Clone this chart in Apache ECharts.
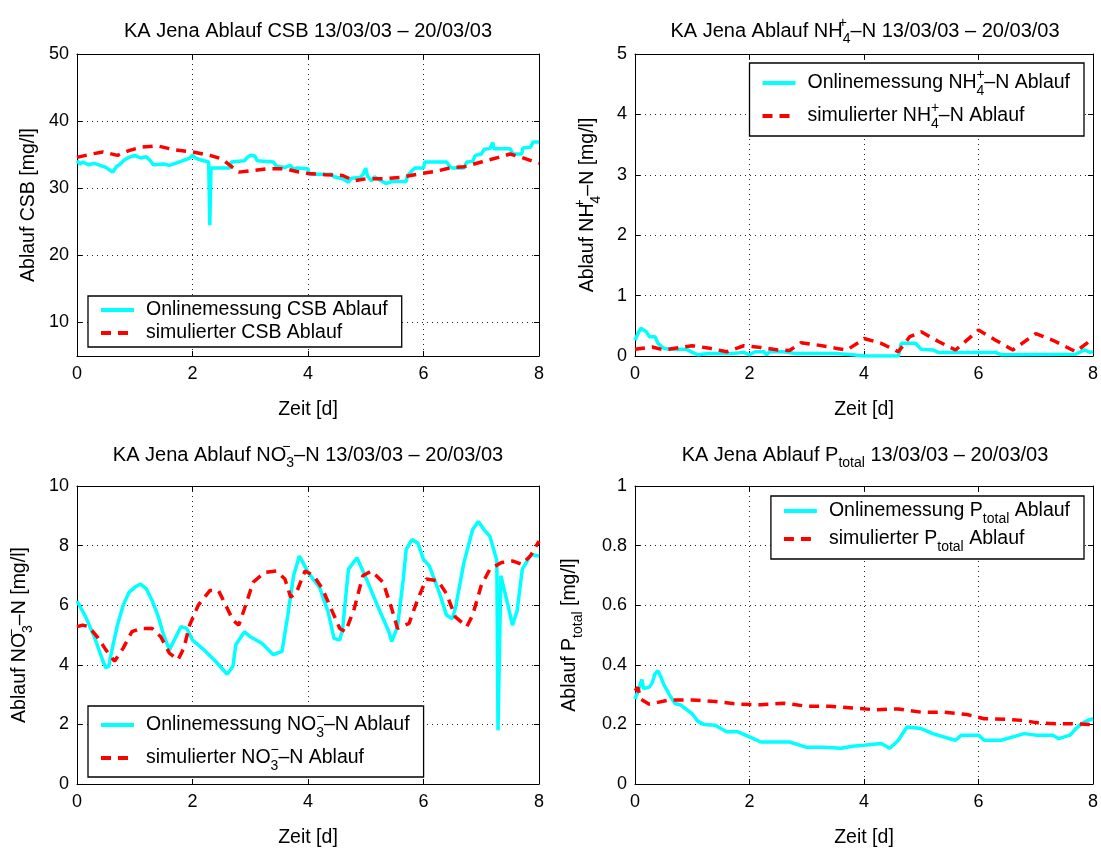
<!DOCTYPE html>
<html><head><meta charset="utf-8">
<script src="https://cdn.jsdelivr.net/npm/echarts@6/dist/echarts.min.js"></script>
<style>html,body{margin:0;padding:0;background:#fff}#c{width:1101px;height:849px}</style>
</head><body><div id="c"></div>
<script>
// ---------- DATA ----------
const xTicks = [0, 2, 4, 6, 8];
const csbTicks = [10, 20, 30, 40, 50];

// CSB (COD) effluent
const csbOnT = [0,0.05,0.1,0.2,0.3,0.4,0.5,0.55,0.62,0.68,0.75,0.82,0.9,1.0,1.1,1.2,1.28,1.32,1.5,1.6,1.7,1.8,1.95,2.0,2.05,2.15,2.28,2.3,2.31,2.32,2.65,2.67,2.9,2.95,3.0,3.08,3.12,3.4,3.45,3.6,3.7,3.75,3.8,4.0,4.02,4.4,4.45,4.6,4.7,4.75,4.9,4.95,5.0,5.03,5.1,5.15,5.25,5.35,5.45,5.7,5.72,5.8,5.85,6.0,6.02,6.4,6.45,6.5,6.7,6.75,6.85,6.9,7.0,7.05,7.15,7.2,7.22,7.5,7.55,7.7,7.72,7.85,7.9,8.0];
const csbOnV = [34.1,33.6,33.9,33.5,33.7,33.4,33.1,32.8,32.4,33.2,33.6,34.2,34.6,34.9,34.5,34.7,34.0,33.5,33.6,33.4,33.7,34.0,34.5,34.9,34.5,34.2,33.9,24.5,24.5,33.0,33.0,33.9,34.1,34.6,34.9,34.8,34.1,33.9,33.3,33.1,33.4,32.8,33.0,32.9,32.1,32.1,31.7,31.4,30.9,31.5,31.6,32.0,33.0,31.8,31.1,31.7,31.2,30.7,31.0,31.0,31.8,32.6,33.0,33.0,33.9,33.9,33.3,33.0,33.0,33.9,34.0,34.9,35.1,35.8,35.9,36.8,35.9,35.9,35.1,35.1,36.0,36.1,36.9,36.9];
const csbSimT = [0,0.25,0.45,0.7,0.9,1.1,1.4,1.7,2.0,2.3,2.5,2.65,2.8,3.0,3.3,3.6,3.8,4.0,4.3,4.6,4.8,5.0,5.3,5.6,5.9,6.2,6.5,6.7,7.0,7.3,7.5,7.7,8.0];
const csbSimV = [34.6,35.1,35.4,34.9,35.6,36.1,36.3,35.7,35.4,34.9,34.4,33.4,32.4,32.6,32.9,32.9,32.5,32.2,32.0,31.9,31.1,31.4,31.4,31.6,32.1,32.5,33.1,33.2,33.9,34.6,35.1,34.6,33.7];

// NH4-N effluent
const nhOnT = [0,0.05,0.1,0.2,0.25,0.35,0.4,0.5,0.6,0.9,1.0,1.1,1.3,1.7,1.9,2.0,2.1,2.25,2.3,2.35,2.6,2.8,3.5,3.8,4.0,4.6,4.65,4.9,5.0,5.2,5.3,6.3,6.4,7.7,7.85,7.95,8.0];
const nhOnV = [0.26,0.37,0.46,0.4,0.32,0.32,0.21,0.13,0.11,0.11,0.06,0.02,0.04,0.04,0.06,0.02,0.07,0.07,0.02,0.07,0.07,0.04,0.04,0.02,0,0,0.21,0.21,0.11,0.1,0.06,0.06,0.02,0.03,0.1,0.06,0.07];
const nhSimT = [0,0.3,0.5,0.7,1.0,1.3,1.6,1.9,2.2,2.5,2.7,2.9,3.2,3.5,3.7,3.9,4.0,4.3,4.6,4.8,5.0,5.3,5.6,6.0,6.3,6.6,7.0,7.3,7.7,8.0];
const nhSimV = [0.11,0.15,0.1,0.13,0.17,0.13,0.07,0.17,0.14,0.1,0.09,0.22,0.18,0.13,0.1,0.22,0.29,0.21,0.07,0.32,0.4,0.24,0.1,0.43,0.26,0.1,0.37,0.26,0.07,0.29];

// NO3-N effluent
const noOnT = [0,0.15,0.3,0.45,0.5,0.55,0.6,0.7,0.8,0.9,1.0,1.1,1.2,1.3,1.4,1.5,1.6,1.7,1.8,1.9,2.0,2.2,2.4,2.5,2.6,2.7,2.75,2.9,3.0,3.2,3.4,3.55,3.65,3.75,3.85,3.9,4.0,4.2,4.35,4.45,4.55,4.6,4.7,4.85,5.0,5.2,5.4,5.45,5.55,5.65,5.7,5.8,5.9,6.0,6.1,6.25,6.4,6.5,6.55,6.7,6.85,6.95,7.05,7.15,7.27,7.29,7.3,7.34,7.45,7.54,7.62,7.71,7.86,8.0];
const noOnV = [6.14,5.61,4.94,4.12,3.9,3.95,4.45,5.33,6.0,6.43,6.6,6.71,6.55,6.16,5.66,5.0,4.5,4.89,5.28,5.22,4.83,4.5,4.12,3.9,3.68,3.95,4.67,5.11,4.94,4.72,4.34,4.45,5.66,6.99,7.65,7.48,7.1,6.6,5.77,4.89,4.83,5.22,7.21,7.59,6.93,6.0,5.11,4.78,5.28,6.88,7.87,8.2,8.09,7.54,7.32,6.55,5.66,5.55,5.88,7.43,8.53,8.81,8.53,8.31,7.5,1.8,1.8,6.99,6.1,5.33,5.8,7.2,7.7,7.65];
const noSimT = [0,0.1,0.2,0.35,0.5,0.65,0.8,0.95,1.1,1.3,1.45,1.6,1.75,1.85,1.95,2.1,2.3,2.45,2.55,2.7,2.8,2.9,3.05,3.25,3.45,3.6,3.7,3.8,3.95,4.1,4.25,4.4,4.55,4.65,4.8,4.95,5.1,5.3,5.45,5.55,5.75,5.9,6.05,6.25,6.4,6.55,6.75,6.85,7.0,7.15,7.35,7.55,7.7,7.85,8.0];
const noSimV = [5.28,5.33,5.28,4.94,4.5,4.12,4.56,5.11,5.22,5.22,4.94,4.39,4.17,4.56,5.33,6.0,6.49,6.49,6.1,5.5,5.33,5.88,6.77,7.1,7.15,6.88,6.27,6.43,7.15,6.99,6.55,5.88,5.22,5.11,5.88,6.99,7.15,6.77,5.88,5.22,5.39,6.2,6.88,6.82,6.38,5.61,5.28,5.66,6.66,7.21,7.43,7.48,7.37,7.65,8.15];

// P total effluent
const pOnT = [0,0.05,0.1,0.12,0.15,0.25,0.3,0.35,0.4,0.45,0.5,0.6,0.7,0.8,0.9,1.0,1.1,1.2,1.4,1.6,1.8,2.0,2.2,2.5,2.7,3.0,3.3,3.6,3.8,4.0,4.3,4.45,4.6,4.75,5.0,5.2,5.5,5.6,5.7,6.0,6.1,6.4,6.6,6.8,7.0,7.3,7.4,7.6,7.7,7.8,7.9,8.0];
const pOnV = [0.285,0.31,0.34,0.35,0.32,0.325,0.34,0.37,0.38,0.36,0.335,0.30,0.27,0.265,0.25,0.235,0.21,0.20,0.197,0.175,0.175,0.158,0.141,0.141,0.141,0.123,0.123,0.12,0.127,0.13,0.136,0.12,0.147,0.191,0.186,0.169,0.152,0.147,0.164,0.164,0.147,0.147,0.158,0.169,0.164,0.164,0.152,0.164,0.186,0.202,0.213,0.219];
const pSimT = [0,0.05,0.1,0.25,0.4,0.6,1.0,1.4,1.8,2.2,2.6,3.0,3.4,3.8,4.2,4.6,5.0,5.4,5.8,6.1,6.5,6.8,7.0,7.4,7.7,8.0];
const pSimV = [0.313,0.324,0.285,0.268,0.274,0.282,0.282,0.277,0.268,0.266,0.271,0.261,0.261,0.255,0.249,0.252,0.241,0.241,0.233,0.219,0.217,0.213,0.206,0.202,0.202,0.199];

// ---------- CHART ----------
const FF = "'Liberation Sans', Arial, Helvetica, sans-serif";
const zip = (t, v) => t.map((x, i) => [x, v[i]]);

function richStyles(fs, lh) {
  const s = Math.round(fs * 0.72);
  const base = {fontFamily: FF, color: '#000', fontWeight: 'normal'};
  return {
    t: Object.assign({fontSize: fs, lineHeight: lh}, base),
    sup: Object.assign({fontSize: s, lineHeight: s, verticalAlign: 'top', width: 0}, base),
    sub: Object.assign({fontSize: s, lineHeight: s, verticalAlign: 'bottom'}, base)
  };
}

const grids = [
  {left: 77, top: 54, width: 462, height: 302},
  {left: 635, top: 54, width: 460, height: 302},
  {left: 77, top: 486, width: 462, height: 301},
  {left: 635, top: 486, width: 460, height: 301}
];

const yCfg = [
  {min: 5, max: 50, custom: csbTicks, name: '{t|Ablauf CSB [mg/l]}', gap: 33},
  {min: 0, max: 5, interval: 1, name: '{t|Ablauf NH}{sup|+}{sub|4}{t|–N [mg/l]}', gap: 32},
  {min: 0, max: 10, interval: 2, name: '{t|Ablauf NO}{sup|−}{sub|3}{t|–N [mg/l]}', gap: 42},
  {min: 0, max: 1, interval: 0.2, name: '{t|Ablauf P}{sub|total}{t| [mg/l]}', gap: 50}
];

const titles = [
  '{t|KA Jena Ablauf CSB 13/03/03 – 20/03/03}',
  '{t|KA Jena Ablauf NH}{sup|+}{sub|4}{t|–N 13/03/03 – 20/03/03}',
  '{t|KA Jena Ablauf NO}{sup|−}{sub|3}{t|–N 13/03/03 – 20/03/03}',
  '{t|KA Jena Ablauf P}{sub|total}{t| 13/03/03 – 20/03/03}'
];
const titleTops = [16, 16, 440, 440];

const lineStyleAxis = {color: '#000', width: 1};
const gridLine = {show: true, lineStyle: {color: '#222', type: [1, 4], width: 1}};

const xAxis = [], yAxis = [];
grids.forEach((g, i) => {
  ['bottom', 'top'].forEach(pos => {
    const main = pos === 'bottom';
    xAxis.push({
      type: 'value', gridIndex: i, position: pos, min: 0, max: 8, interval: 2,
      axisLine: {show: true, onZero: false, lineStyle: lineStyleAxis},
      axisTick: {show: true, inside: true, length: 5, lineStyle: lineStyleAxis},
      axisLabel: {show: main, color: '#000', fontSize: 18, fontFamily: FF, margin: 9},
      splitLine: main ? gridLine : {show: false},
      name: main ? 'Zeit [d]' : '', nameLocation: 'middle', nameGap: 44,
      nameTextStyle: {color: '#000', fontSize: 19.5, fontFamily: FF}
    });
  });
  const c = yCfg[i];
  ['left', 'right'].forEach(pos => {
    const main = pos === 'left';
    const ax = {
      type: 'value', gridIndex: i, position: pos, min: c.min, max: c.max,
      axisLine: {show: true, onZero: false, lineStyle: lineStyleAxis},
      axisTick: {show: true, inside: true, length: 5, lineStyle: lineStyleAxis},
      axisLabel: {show: main, color: '#000', fontSize: 18, fontFamily: FF, margin: 8},
      splitLine: main ? gridLine : {show: false},
      name: main ? c.name : '', nameLocation: 'middle', nameGap: c.gap,
      nameTextStyle: {rich: richStyles(19.5, 30)}
    };
    if (c.custom) {
      ax.axisTick.customValues = c.custom;
      ax.axisLabel.customValues = c.custom;
    } else {
      ax.interval = c.interval;
    }
    yAxis.push(ax);
  });
});

const names = [
  ['Onlinemessung CSB Ablauf', 'simulierter CSB Ablauf'],
  ['Onlinemessung NH4-N Ablauf', 'simulierter NH4-N Ablauf'],
  ['Onlinemessung NO3-N Ablauf', 'simulierter NO3-N Ablauf'],
  ['Onlinemessung Ptotal Ablauf', 'simulierter Ptotal Ablauf']
];
const legendLabels = {
  'Onlinemessung CSB Ablauf': '{t|Onlinemessung CSB Ablauf}',
  'simulierter CSB Ablauf': '{t|simulierter CSB Ablauf}',
  'Onlinemessung NH4-N Ablauf': '{t|Onlinemessung NH}{sup|+}{sub|4}{t|–N Ablauf}',
  'simulierter NH4-N Ablauf': '{t|simulierter NH}{sup|+}{sub|4}{t|–N Ablauf}',
  'Onlinemessung NO3-N Ablauf': '{t|Onlinemessung NO}{sup|−}{sub|3}{t|–N Ablauf}',
  'simulierter NO3-N Ablauf': '{t|simulierter NO}{sup|−}{sub|3}{t|–N Ablauf}',
  'Onlinemessung Ptotal Ablauf': '{t|Onlinemessung P}{sub|total}{t| Ablauf}',
  'simulierter Ptotal Ablauf': '{t|simulierter P}{sub|total}{t| Ablauf}'
};

const data = [
  [zip(csbOnT, csbOnV), zip(csbSimT, csbSimV)],
  [zip(nhOnT, nhOnV), zip(nhSimT, nhSimV)],
  [zip(noOnT, noOnV), zip(noSimT, noSimV)],
  [zip(pOnT, pOnV), zip(pSimT, pSimV)]
];

const series = [];
data.forEach((d, i) => {
  series.push({
    type: 'line', name: names[i][0], xAxisIndex: 2 * i, yAxisIndex: 2 * i,
    data: d[0], symbol: 'none', showSymbol: false, animation: false,
    lineStyle: {color: '#00ffff', width: 3.5}, itemStyle: {color: '#00ffff'}
  });
  series.push({
    type: 'line', name: names[i][1], xAxisIndex: 2 * i, yAxisIndex: 2 * i,
    data: d[1], symbol: 'none', showSymbol: false, animation: false,
    lineStyle: {color: '#ff0000', width: 3.5, type: [10, 7]}, itemStyle: {color: '#ff0000'}
  });
});

const legendPos = [
  {left: 88, top: 296, lh: 24, gap: 3, pad: [4, 14, 4, 11]},
  {right: 17, top: 63, lh: 30, gap: 3, pad: [5, 14, 5, 11]},
  {left: 88, top: 706, lh: 30, gap: 3, pad: [4, 14, 4, 11]},
  {right: 17, top: 496, lh: 30, gap: 3, pad: [5, 14, 5, 11]}
];
const legend = legendPos.map((p, i) => {
  const l = {
    data: names[i], orient: 'vertical', top: p.top, padding: p.pad, itemGap: p.gap,
    itemWidth: 33, itemHeight: 14, borderColor: '#000', borderWidth: 1.3, borderRadius: 0,
    backgroundColor: '#fff', selectedMode: false,
    itemStyle: {opacity: 0},
    lineStyle: {width: 4},
    formatter: n => legendLabels[n],
    textStyle: {padding: [0, 0, 0, 7], rich: richStyles(19.5, p.lh)}
  };
  if (p.left != null) l.left = p.left; else l.right = p.right;
  return l;
});

const title = titles.map((t, i) => ({
  text: t, left: (grids[i].left + grids[i].width / 2), top: titleTops[i], textAlign: 'center', padding: 0,
  textStyle: {fontWeight: 'normal', rich: richStyles(20, 30)}
}));

const chart = echarts.init(document.getElementById('c'), null, {renderer: 'canvas'});
chart.setOption({
  backgroundColor: '#fff', animation: false,
  title, grid: grids, xAxis, yAxis, legend, series
});
</script></body></html>
